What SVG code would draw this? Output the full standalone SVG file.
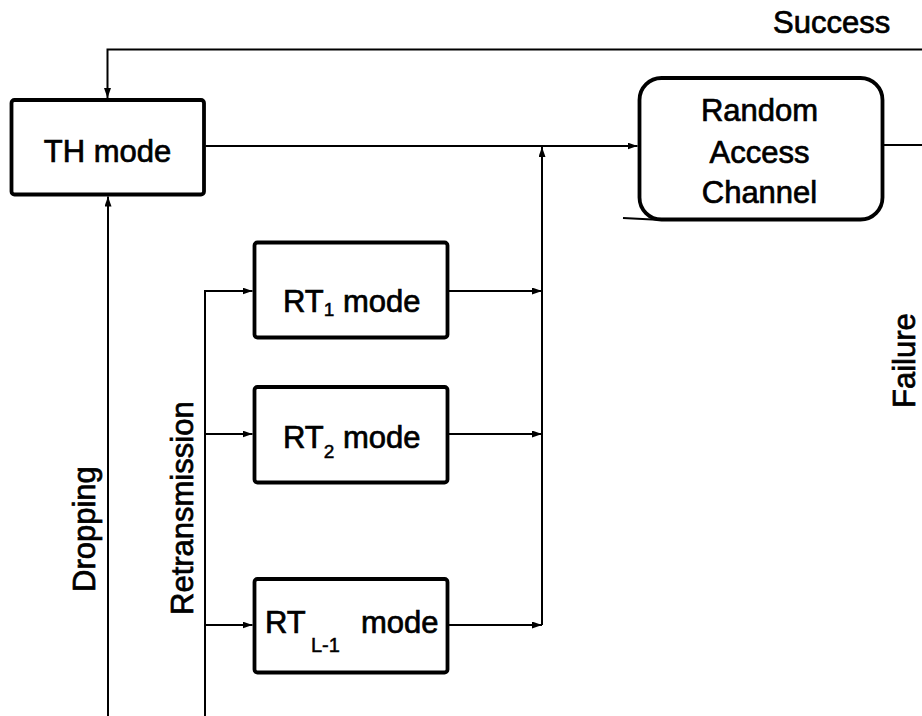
<svg xmlns="http://www.w3.org/2000/svg" width="922" height="716" viewBox="0 0 922 716">
  <style>
    .box { fill: #fff; stroke: #000; stroke-width: 3.8; }
    .wire { fill: none; stroke: #000; stroke-width: 2; }
    .lbl { font-family: "Liberation Sans", Arial, Helvetica, sans-serif; font-size: 31px; fill: #000; stroke: #000; stroke-width: 0.7; }
    .sub { font-size: 19px; stroke-width: 0.5; }
    .subw { font-size: 20px; stroke-width: 0.5; }
  </style>
  <defs>
    <marker id="arr" viewBox="0 0 10 7" refX="10" refY="3.5" markerWidth="10" markerHeight="7" orient="auto" markerUnits="userSpaceOnUse">
      <path d="M0,0 L10,3.5 L0,7 z" fill="#000"/>
    </marker>
  </defs>
  <rect width="922" height="716" fill="#fff"/>

  <!-- connectors -->
  <g id="connectors">
    <!-- success feedback into TH mode -->
    <path class="wire" d="M922,49.5 L107.5,49.5 L107.5,98" marker-end="url(#arr)"/>
    <!-- TH mode to random access channel -->
    <path class="wire" d="M205.5,146 L637.5,146" marker-end="url(#arr)"/>
    <!-- channel output to the right -->
    <path class="wire" d="M884,145 L922,145"/>
    <!-- stub at lower left of channel -->
    <path class="wire" d="M623,218 L662,220"/>
    <!-- dropping path back into TH mode -->
    <path class="wire" d="M108,716 L108,196.5" marker-end="url(#arr)"/>
    <!-- retransmission bus -->
    <path class="wire" d="M205,716 L205,291 L252.5,291" marker-end="url(#arr)"/>
    <path class="wire" d="M205,434 L252.5,434" marker-end="url(#arr)"/>
    <path class="wire" d="M205,625 L252.5,625" marker-end="url(#arr)"/>
    <!-- RT outputs to the merge line -->
    <path class="wire" d="M449,291 L542,291" marker-end="url(#arr)"/>
    <path class="wire" d="M449,434 L542,434" marker-end="url(#arr)"/>
    <path class="wire" d="M449,625 L542,625" marker-end="url(#arr)"/>
    <!-- merge line up to the TH -> channel line -->
    <path class="wire" d="M542,625 L542,147" marker-end="url(#arr)"/>
  </g>

  <!-- nodes -->
  <g id="th-mode">
    <rect class="box" x="11.5" y="100" width="192.5" height="94.5" rx="3"/>
    <text class="lbl" x="107.5" y="162" text-anchor="middle">TH mode</text>
  </g>

  <g id="random-access-channel">
    <rect class="box" x="639.5" y="78" width="243" height="141.5" rx="22"/>
    <text class="lbl" x="759.5" y="121" text-anchor="middle">Random</text>
    <text class="lbl" x="759.5" y="163" text-anchor="middle">Access</text>
    <text class="lbl" x="759.5" y="203" text-anchor="middle">Channel</text>
  </g>

  <g id="rt1-mode">
    <rect class="box" x="254.5" y="242.5" width="193" height="95" rx="3"/>
    <text class="lbl" x="283" y="312">RT<tspan class="sub" dy="4">1</tspan><tspan x="343" dy="-4">mode</tspan></text>
  </g>

  <g id="rt2-mode">
    <rect class="box" x="254.5" y="387" width="193" height="95.5" rx="3"/>
    <text class="lbl" x="283" y="448">RT<tspan class="sub" dy="10">2</tspan><tspan x="343" dy="-10">mode</tspan></text>
  </g>

  <g id="rtl1-mode">
    <rect class="box" x="254.5" y="579" width="193" height="93.5" rx="3"/>
    <text class="lbl" x="265" y="633">RT<tspan class="subw" x="311" dy="19">L-1</tspan><tspan x="361" dy="-19">mode</tspan></text>
  </g>

  <!-- edge labels -->
  <g id="labels">
    <text class="lbl" x="773" y="33">Success</text>
    <text class="lbl" transform="translate(915,408) rotate(-90)">Failure</text>
    <text class="lbl" transform="translate(95,592) rotate(-90)">Dropping</text>
    <text class="lbl" transform="translate(193,615) rotate(-90)">Retransmission</text>
  </g>
</svg>
